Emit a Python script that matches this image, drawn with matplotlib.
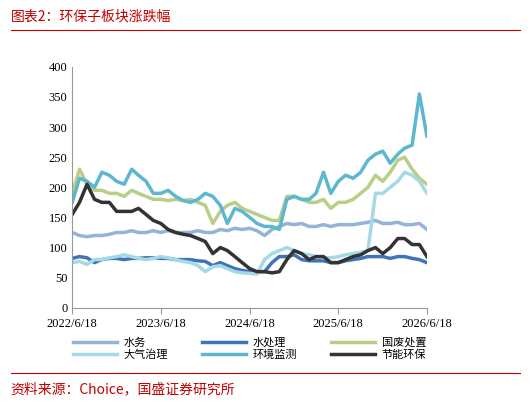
import matplotlib
matplotlib.use("Agg")
import matplotlib.pyplot as plt
import matplotlib.dates as mdates
import pandas as pd

plt.rcParams['font.family'] = ['Noto Sans CJK SC', 'DejaVu Sans']

dates = pd.date_range('2022-06-18', periods=49, freq=pd.DateOffset(months=1))

water = [125, 120, 118, 120, 120, 122, 125, 125, 128, 125, 125, 128, 125, 128, 125, 125, 125, 128, 125, 125,
         130, 128, 132, 130, 132, 128, 120, 130, 135, 140, 138, 140, 135, 135, 138, 135, 138, 138, 138, 140,
         142, 145, 140, 140, 142, 138, 138, 140, 130]
water_treat = [82, 85, 83, 75, 80, 82, 82, 80, 82, 82, 83, 83, 82, 82, 80, 80, 80, 78, 77, 70,
               75, 70, 65, 62, 60, 60, 60, 75, 85, 85, 88, 80, 78, 78, 78, 75, 75, 78, 80, 82,
               85, 85, 85, 82, 85, 85, 82, 80, 75]
waste = [190, 230, 205, 195, 195, 190, 190, 185, 195, 190, 185, 180, 180, 178, 180, 178, 180, 175, 170, 140,
         160, 170, 175, 165, 160, 155, 150, 145, 145, 185, 185, 180, 175, 175, 180, 165, 175, 175, 180, 190,
         200, 220, 210, 225, 245, 250, 230, 215, 205]
air = [75, 77, 72, 80, 80, 83, 85, 88, 85, 82, 80, 82, 85, 83, 80, 77, 75, 70, 60, 68,
       70, 65, 60, 58, 57, 56, 80, 90, 95, 100, 95, 90, 88, 85, 83, 83, 85, 88, 90, 92,
       95, 190, 190, 200, 210, 225, 220, 210, 190]
monitor = [175, 215, 210, 200, 225, 220, 210, 205, 230, 220, 210, 190, 190, 195, 185, 178, 175, 180, 190, 185,
           170, 140, 165, 160, 150, 140, 135, 135, 130, 180, 185, 180, 180, 190, 225, 190, 210, 220, 215, 225,
           245, 255, 260, 240, 255, 265, 270, 355, 285]
energy = [155, 175, 205, 180, 175, 175, 160, 160, 160, 165, 155, 145, 140, 130, 125, 122, 120, 115, 110, 90,
          100, 95, 85, 75, 65, 60, 60, 58, 60, 80, 95, 90, 80, 85, 85, 75, 75, 80, 85, 88,
          95, 100, 90, 100, 115, 115, 105, 105, 85]

series = [
    ('水务', water, '#95B3D7'),
    ('水处理', water_treat, '#3F74B8'),
    ('国废处置', waste, '#B7CF86'),
    ('大气治理', air, '#A6D9E6'),
    ('环境监测', monitor, '#5DB8CF'),
    ('节能环保', energy, '#333333'),
]

fig = plt.figure(figsize=(5.31, 4.05), dpi=100)
ax = fig.add_axes([0.136, 0.24, 0.668, 0.595])
handles = {}
for name, vals, col in series:
    handles[name], = ax.plot(dates, vals, color=col, lw=2.5, label=name)

ax.set_ylim(0, 400)
ax.set_yticks(range(0, 401, 50))
ax.set_xlim(pd.Timestamp('2022-06-18'), pd.Timestamp('2026-06-18'))
ax.set_xticks(pd.date_range('2022-06-18', periods=5, freq=pd.DateOffset(years=1)))
ax.xaxis.set_major_formatter(mdates.DateFormatter('%Y/%-m/%d'))
for s in ['top', 'right']:
    ax.spines[s].set_visible(False)
for s in ['left', 'bottom']:
    ax.spines[s].set_color('#999999')
ax.tick_params(axis='y', length=0, labelsize=9)
ax.tick_params(axis='x', length=4, labelsize=9, color='#999999')
for lab in ax.get_xticklabels() + ax.get_yticklabels():
    lab.set_family(['Liberation Serif', 'DejaVu Serif'])

# matplotlib fills legend columns first; reorder so rows read like the original
order = ['水务', '大气治理', '水处理', '环境监测', '国废处置', '节能环保']
ax.legend([handles[n] for n in order], order, loc='upper center', bbox_to_anchor=(0.5, -0.08),
          ncol=3, frameon=False, fontsize=8, handlelength=4, columnspacing=3,
          labelspacing=0.2, handletextpad=0.6)

red = '#C00000'
fig.text(0.02, 0.96, '图表2：环保子板块涨跌幅', color=red, fontsize=10, style='italic', va='center')
fig.add_artist(plt.Line2D([0.02, 0.98], [0.925, 0.925], color=red, lw=0.8))
fig.add_artist(plt.Line2D([0.02, 0.98], [0.08, 0.08], color=red, lw=0.8))
fig.text(0.02, 0.04, '资料来源：Choice，国盛证券研究所', color=red, fontsize=10, style='italic', va='center')

fig.savefig('out.png', dpi=100)
